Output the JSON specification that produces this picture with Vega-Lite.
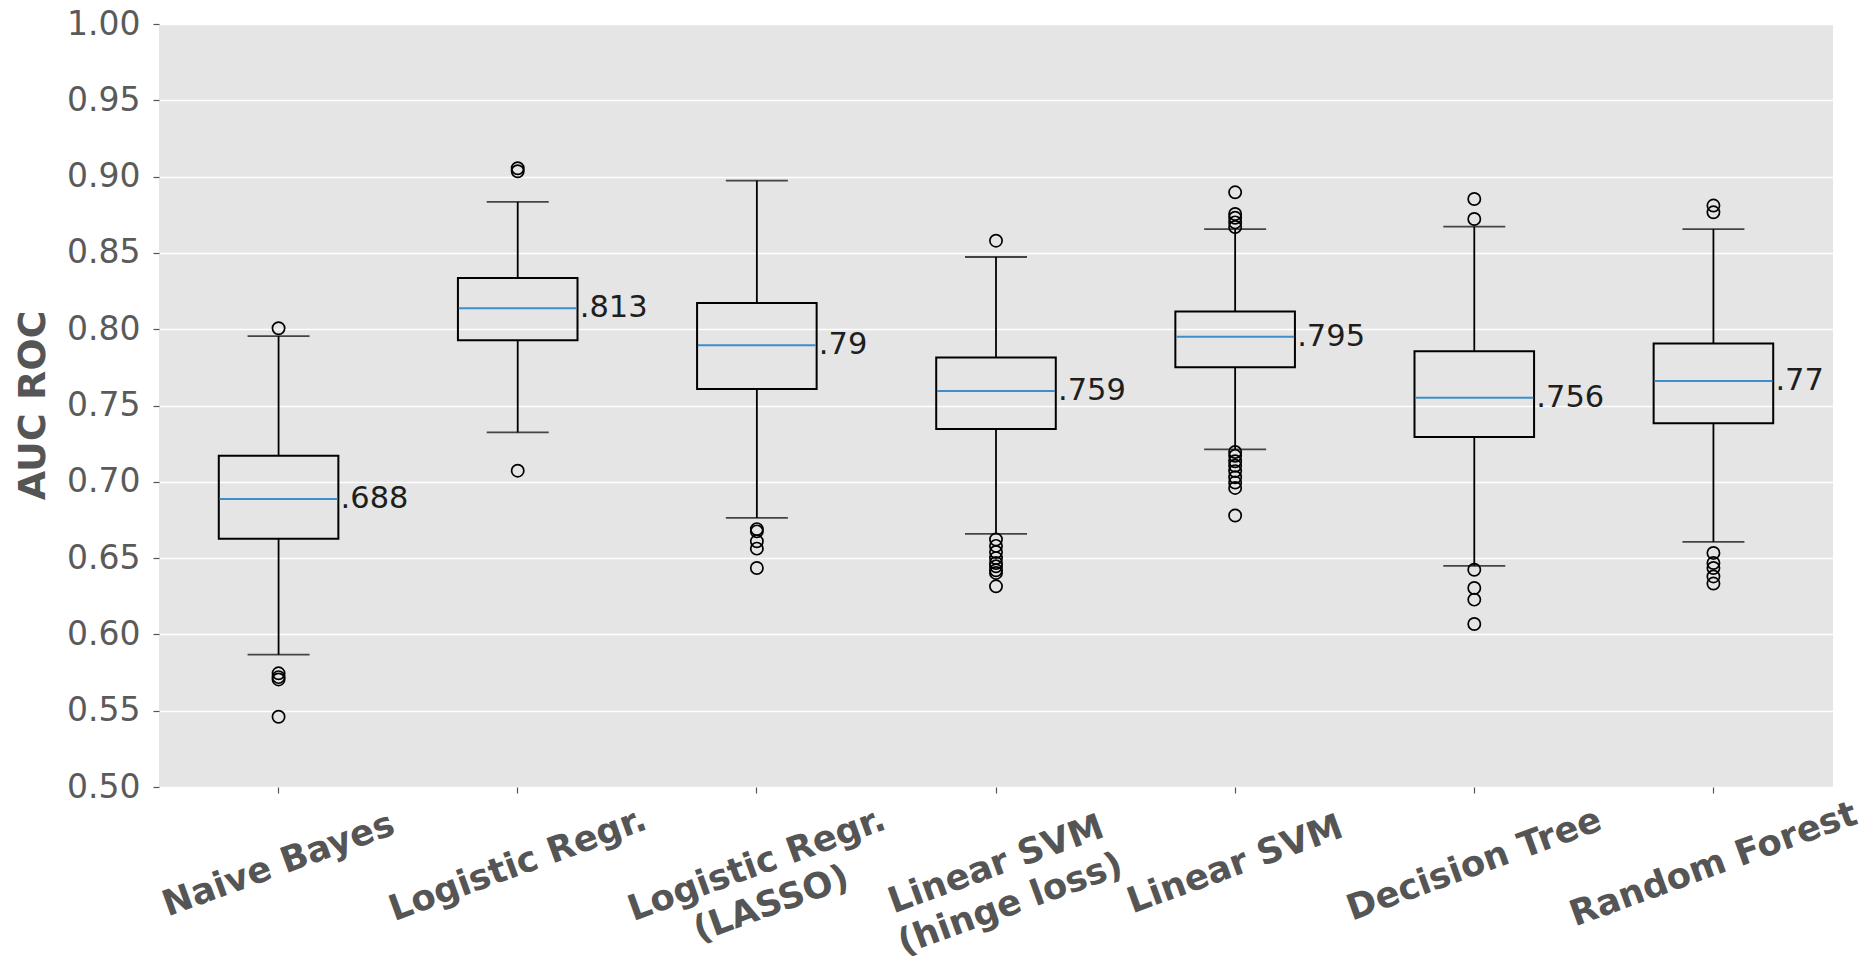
{
  "$schema": "https://vega.github.io/schema/vega-lite/v6.json",
  "autosize": {"type": "none"},
  "padding": {"left": 159, "top": 24, "right": 42, "bottom": 175},
  "width": 1674,
  "height": 763,
  "background": "white",
  "config": {
    "font": "DejaVu Sans",
    "view": {"fill": "#E5E5E5", "stroke": null}
  },
  "datasets": {
    "boxes": [
      {"model": "Naive Bayes", "lo": 0.5867, "q1": 0.6627, "med": 0.6887, "q3": 0.717, "hi": 0.7955, "label": ".688"},
      {"model": "Logistic Regr.", "lo": 0.7324, "q1": 0.7927, "med": 0.8137, "q3": 0.8336, "hi": 0.8834, "label": ".813"},
      {"model": "Logistic Regr.|(LASSO)", "lo": 0.6764, "q1": 0.7608, "med": 0.7895, "q3": 0.8171, "hi": 0.8974, "label": ".79"},
      {"model": "Linear SVM|(hinge loss)", "lo": 0.6659, "q1": 0.7346, "med": 0.7595, "q3": 0.7814, "hi": 0.8473, "label": ".759"},
      {"model": "Linear SVM", "lo": 0.7212, "q1": 0.775, "med": 0.795, "q3": 0.8116, "hi": 0.8656, "label": ".795"},
      {"model": "Decision Tree", "lo": 0.6449, "q1": 0.7293, "med": 0.7551, "q3": 0.7856, "hi": 0.8672, "label": ".756"},
      {"model": "Random Forest", "lo": 0.6606, "q1": 0.7383, "med": 0.7661, "q3": 0.7906, "hi": 0.8656, "label": ".77"}
    ],
    "outliers": [
      {"model": "Naive Bayes", "auc": 0.8006},
      {"model": "Naive Bayes", "auc": 0.5745},
      {"model": "Naive Bayes", "auc": 0.572},
      {"model": "Naive Bayes", "auc": 0.5705},
      {"model": "Naive Bayes", "auc": 0.546},
      {"model": "Logistic Regr.", "auc": 0.9055},
      {"model": "Logistic Regr.", "auc": 0.9035},
      {"model": "Logistic Regr.", "auc": 0.7073},
      {"model": "Logistic Regr.|(LASSO)", "auc": 0.669},
      {"model": "Logistic Regr.|(LASSO)", "auc": 0.6675},
      {"model": "Logistic Regr.|(LASSO)", "auc": 0.661},
      {"model": "Logistic Regr.|(LASSO)", "auc": 0.6562},
      {"model": "Logistic Regr.|(LASSO)", "auc": 0.6435},
      {"model": "Linear SVM|(hinge loss)", "auc": 0.858},
      {"model": "Linear SVM|(hinge loss)", "auc": 0.6622},
      {"model": "Linear SVM|(hinge loss)", "auc": 0.658},
      {"model": "Linear SVM|(hinge loss)", "auc": 0.654},
      {"model": "Linear SVM|(hinge loss)", "auc": 0.65},
      {"model": "Linear SVM|(hinge loss)", "auc": 0.6468},
      {"model": "Linear SVM|(hinge loss)", "auc": 0.6446},
      {"model": "Linear SVM|(hinge loss)", "auc": 0.642},
      {"model": "Linear SVM|(hinge loss)", "auc": 0.6403},
      {"model": "Linear SVM|(hinge loss)", "auc": 0.6315},
      {"model": "Linear SVM", "auc": 0.8897},
      {"model": "Linear SVM", "auc": 0.8755},
      {"model": "Linear SVM", "auc": 0.873},
      {"model": "Linear SVM", "auc": 0.87},
      {"model": "Linear SVM", "auc": 0.867},
      {"model": "Linear SVM", "auc": 0.7195},
      {"model": "Linear SVM", "auc": 0.717},
      {"model": "Linear SVM", "auc": 0.7135},
      {"model": "Linear SVM", "auc": 0.7105},
      {"model": "Linear SVM", "auc": 0.707},
      {"model": "Linear SVM", "auc": 0.703},
      {"model": "Linear SVM", "auc": 0.6995},
      {"model": "Linear SVM", "auc": 0.696},
      {"model": "Linear SVM", "auc": 0.6779},
      {"model": "Decision Tree", "auc": 0.8853},
      {"model": "Decision Tree", "auc": 0.8722},
      {"model": "Decision Tree", "auc": 0.6424},
      {"model": "Decision Tree", "auc": 0.6304},
      {"model": "Decision Tree", "auc": 0.6228},
      {"model": "Decision Tree", "auc": 0.6068},
      {"model": "Random Forest", "auc": 0.881},
      {"model": "Random Forest", "auc": 0.8766},
      {"model": "Random Forest", "auc": 0.6534},
      {"model": "Random Forest", "auc": 0.6468},
      {"model": "Random Forest", "auc": 0.6435},
      {"model": "Random Forest", "auc": 0.638},
      {"model": "Random Forest", "auc": 0.6333}
    ]
  },
  "encoding": {
    "x": {
      "field": "model",
      "type": "nominal",
      "scale": {
        "domain": ["Naive Bayes", "Logistic Regr.", "Logistic Regr.|(LASSO)", "Linear SVM|(hinge loss)", "Linear SVM", "Decision Tree", "Random Forest"],
        "paddingInner": 0,
        "paddingOuter": 0
      },
      "axis": {
        "title": null,
        "labelExpr": "split(datum.label, '|')",
        "labelAngle": -20,
        "labelAlign": "center",
        "labelBaseline": "middle",
        "labelPadding": 71,
        "labelFontSize": 35.5,
        "labelFontWeight": "bold",
        "labelColor": "#555555",
        "labelLineHeight": 42,
        "labelLimit": 0,
        "labelOverlap": false,
        "tickColor": "#555555",
        "tickSize": 6,
        "tickWidth": 1.2,
        "domain": false,
        "grid": false
      }
    }
  },
  "layer": [
    {
      "data": {"name": "boxes"},
      "mark": {"type": "rule", "color": "black", "strokeWidth": 1.8},
      "encoding": {
        "y": {
          "field": "lo",
          "type": "quantitative",
          "scale": {"domain": [0.5, 1.0], "nice": false, "zero": false},
          "axis": {
            "title": "AUC ROC",
            "titleFontSize": 38,
            "titleFontWeight": "bold",
            "titleColor": "#555555",
            "titleAngle": -90,
            "titleAlign": "center",
            "titleBaseline": "middle",
            "titleX": -126,
            "titleY": 381,
            "values": [0.5, 0.55, 0.6, 0.65, 0.7, 0.75, 0.8, 0.85, 0.9, 0.95, 1.0],
            "format": ".2f",
            "labelFontSize": 33,
            "labelColor": "#5a5a5a",
            "labelPadding": 13,
            "tickColor": "#555555",
            "tickSize": 6,
            "tickWidth": 1.2,
            "domain": false,
            "grid": true,
            "gridColor": "white",
            "gridWidth": 1.6
          }
        },
        "y2": {"field": "q1"}
      }
    },
    {
      "data": {"name": "boxes"},
      "mark": {"type": "rule", "color": "black", "strokeWidth": 1.8},
      "encoding": {
        "y": {"field": "q3", "type": "quantitative"},
        "y2": {"field": "hi"}
      }
    },
    {
      "data": {"name": "boxes"},
      "mark": {"type": "tick", "color": "black", "size": 62, "thickness": 1.8},
      "encoding": {"y": {"field": "lo", "type": "quantitative"}}
    },
    {
      "data": {"name": "boxes"},
      "mark": {"type": "tick", "color": "black", "size": 62, "thickness": 1.8},
      "encoding": {"y": {"field": "hi", "type": "quantitative"}}
    },
    {
      "data": {"name": "boxes"},
      "mark": {"type": "bar", "width": {"band": 0.5}, "fill": "#E5E5E5", "fillOpacity": 0, "stroke": "black", "strokeWidth": 2},
      "encoding": {
        "y": {"field": "q1", "type": "quantitative"},
        "y2": {"field": "q3"}
      }
    },
    {
      "data": {"name": "boxes"},
      "mark": {"type": "tick", "color": "#3d8ec9", "size": 118, "thickness": 2, "opacity": 1},
      "encoding": {"y": {"field": "med", "type": "quantitative"}}
    },
    {
      "data": {"name": "boxes"},
      "mark": {"type": "text", "align": "left", "baseline": "middle", "dx": 62, "fontSize": 30.5, "color": "#1e1e1e"},
      "encoding": {
        "y": {"field": "med", "type": "quantitative"},
        "text": {"field": "label"}
      }
    },
    {
      "data": {"name": "outliers"},
      "mark": {"type": "point", "shape": "circle", "filled": false, "stroke": "black", "strokeWidth": 1.7, "size": 150, "opacity": 1},
      "encoding": {"y": {"field": "auc", "type": "quantitative"}}
    }
  ]
}
